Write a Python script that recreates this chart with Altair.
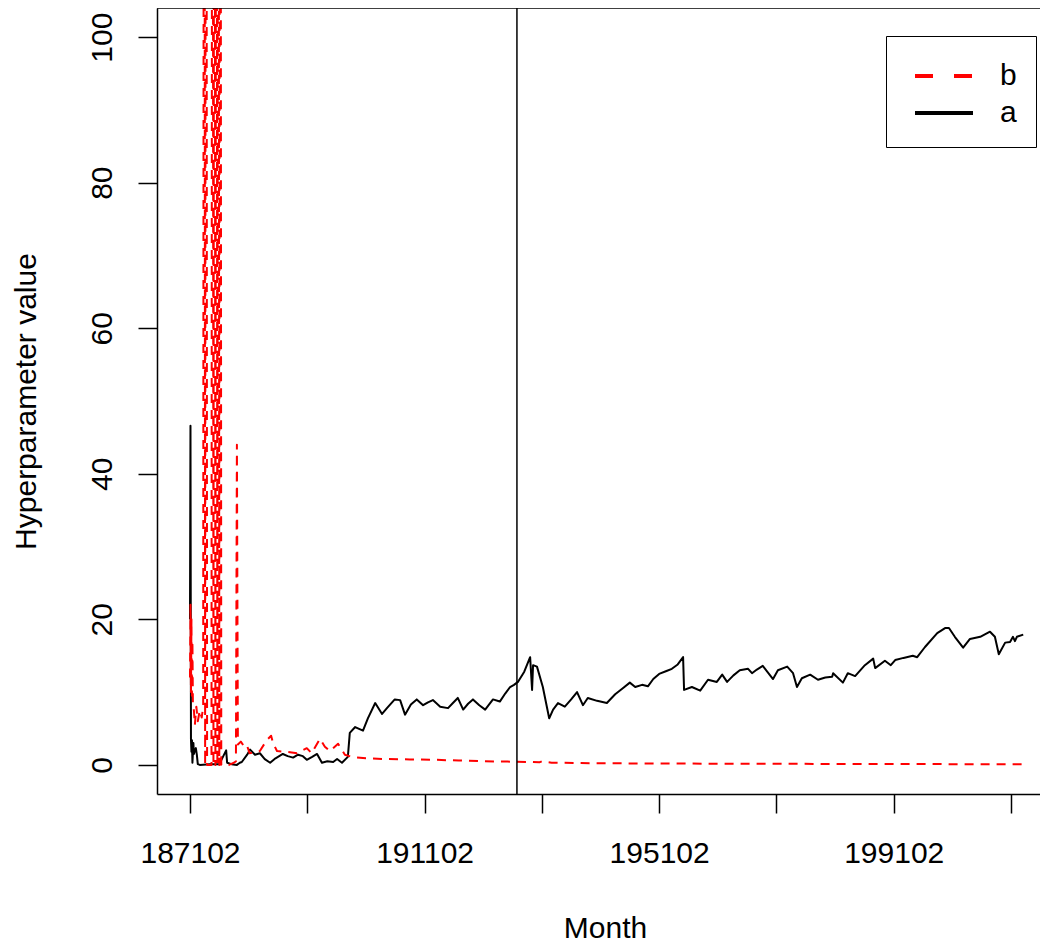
import altair as alt
import pandas as pd

# x = month index, 0 = 1871-02 (one step per month)
a_month = [
    0, 1, 2, 3, 4, 5, 7, 8, 10, 12,
    14, 16, 20, 40, 60, 74, 76, 85, 96, 102,
    106, 117, 123, 133, 143, 153, 164, 175, 190, 200,
    211, 221, 231, 239, 250, 260, 270, 281, 293, 301,
    311, 323, 327, 338, 354, 364, 379, 393, 403, 419,
    430, 440, 452, 464, 477, 487, 497, 512, 528, 538,
    548, 559, 569, 579, 592, 604, 620, 634, 645, 655,
    663, 671, 684, 696, 700, 702, 710, 722, 735, 743,
    753, 767, 780, 792, 804, 814, 833, 853, 870, 885,
    900, 911, 925, 937, 948, 960, 975, 986, 998, 1009,
    1011, 1027, 1044, 1060, 1078, 1089, 1099, 1112, 1125, 1142,
    1150, 1160, 1172, 1193, 1203, 1222, 1234, 1242, 1252, 1269,
    1285, 1300, 1314, 1316, 1336, 1346, 1361, 1381, 1398, 1402,
    1422, 1434, 1443, 1460, 1479, 1488, 1504, 1529, 1545, 1553,
    1565, 1582, 1596, 1617, 1637, 1647, 1655, 1668, 1678, 1684,
    1688, 1692, 1705,
]
a_value = [
    20, 46.6, 3.5, 1.8, 3.4, 0.3, 3.0, 1.5, 2.0, 2.3,
    1.4, 0.1, 0, 0.1, 0.1, 2.0, 0.3, 0.1, 0, 0.3,
    0.4, 1.4, 2.1, 1.4, 1.6, 0.8, 0.3, 0.9, 1.5, 1.2,
    1.0, 1.4, 1.2, 0.7, 1.1, 1.5, 0.3, 0.5, 0.4, 0.8,
    0.3, 1.1, 4.4, 5.2, 4.7, 6.4, 8.5, 7.0, 7.8, 9.0,
    8.9, 6.9, 8.3, 9.0, 8.2, 8.6, 8.9, 8.0, 7.8, 8.5,
    9.2, 7.6, 8.4, 9.0, 8.2, 7.6, 9.0, 8.7, 9.8, 10.7,
    11.0, 11.4, 12.8, 14.8, 10.3, 13.7, 13.5, 10.7, 6.4, 7.6,
    8.5, 8.0, 9.0, 10.0, 8.2, 9.2, 8.8, 8.5, 9.7, 10.5,
    11.3, 10.7, 11.0, 10.8, 11.8, 12.5, 12.9, 13.2, 13.8, 14.8,
    10.3, 10.7, 10.2, 11.7, 11.4, 12.4, 11.4, 12.3, 13.0, 13.2,
    12.6, 13.1, 13.6, 11.8, 13.0, 13.5, 12.6, 10.7, 11.9, 12.4,
    11.7, 12.0, 12.1, 12.6, 11.3, 12.6, 12.2, 13.7, 14.6, 13.3,
    14.3, 13.7, 14.4, 14.7, 15.0, 14.8, 16.2, 18.1, 18.8, 18.8,
    17.6, 16.1, 17.3, 17.6, 18.3, 17.6, 15.2, 16.8, 16.9, 17.6,
    17.0, 17.6, 17.9,
]

b_month = [
    0, 1, 2, 3, 4, 5, 6, 8, 10, 13,
    16, 20, 24, 27, 29, 31, 33, 35, 40, 44,
    46, 48, 50, 52, 54, 56, 58, 60, 62, 64,
    70, 80, 90, 94, 96, 98, 104, 110, 116, 122,
    143, 157, 166, 170, 178, 198, 219, 239, 249, 266,
    276, 286, 303, 317, 331, 360, 400, 450, 500, 550,
    600, 650, 700, 715, 720, 740, 800, 900, 1000, 1200,
    1400, 1600, 1705,
]
b_value = [
    12, 22, 10, 20, 9.5, 17, 8, 7.5, 5.5, 8,
    6, 7.5, 6.5, 8, 250, 0, 250, 0, 0, 0,
    250, 0, 250, 0, 250, 0, 250, 0, 250, 0,
    0, 0, 0.3, 0.5, 44, 2.8, 3.2, 2.6, 2.8, 1.6,
    1.9, 3.4, 4.0, 3.0, 1.9, 1.8, 1.6, 2.3, 1.6, 3.6,
    2.5, 1.9, 2.9, 1.4, 1.1, 0.9, 0.8, 0.75, 0.7, 0.6,
    0.5, 0.45, 0.4, 0.35, 0.5, 0.3, 0.25, 0.2, 0.18, 0.15,
    0.12, 0.1, 0.1,
]
assert len(a_month) == len(a_value)
assert len(b_month) == len(b_value)

series_names = ["b", "a"]
series_colors = ["#FF0000", "#000000"]
legend_dashes = [[18, 21], [1, 0]]

x_tick_values = [0, 240, 480, 720, 960, 1200, 1440, 1680]
x_tick_labels = ["187102", "", "191102", "", "195102", "", "199102", ""]
y_tick_values = [0, 20, 40, 60, 80, 100]
vline_month = [669]

FONT = "Liberation Sans"
FS = 30
W, H = 883, 786

df_a = pd.DataFrame({"m": a_month, "v": a_value})
df_b = pd.DataFrame({"m": b_month, "v": b_value})
df_key = pd.DataFrame({
    "series": series_names,
    "m": [b_month[0], a_month[0]],
    "v": [b_value[0], a_value[0]],
})
df_vline = pd.DataFrame({"m": vline_month})

label_expr = "''"
for v, lab in reversed(list(zip(x_tick_values, x_tick_labels))):
    label_expr = f"datum.value == {v} ? '{lab}' : ({label_expr})"

xscale = alt.Scale(domain=[-67.5, 1739.3], nice=False, zero=False)
yscale = alt.Scale(domain=[-4, 104], nice=False, zero=False)

x_axis = alt.Axis(
    values=x_tick_values, labelExpr=label_expr, title="Month", grid=False,
    tickSize=19, tickWidth=1.5, tickColor="black",
    domain=True, domainColor="black", domainWidth=1.5,
    labelFont=FONT, labelFontSize=FS, labelColor="black",
    labelBaseline="alphabetic", labelAlign="center", labelPadding=49,
    labelOverlap=False, labelFlush=False,
    titleFont=FONT, titleFontSize=FS, titleFontWeight="normal", titleColor="black",
    titleX=448, titleY=143, titleAlign="center", titleBaseline="alphabetic",
)
y_axis = alt.Axis(
    values=y_tick_values, title="Hyperparameter value", grid=False,
    tickSize=19, tickWidth=1.5, tickColor="black",
    domain=True, domainColor="black", domainWidth=1.5,
    labelFont=FONT, labelFontSize=FS, labelColor="black",
    labelAngle=270, labelAlign="center", labelBaseline="alphabetic",
    labelPadding=27, labelOverlap=False, labelFlush=False,
    titleFont=FONT, titleFontSize=FS, titleFontWeight="normal", titleColor="black",
    titleAngle=270, titleX=-122, titleY=393, titleAlign="center",
    titleBaseline="alphabetic",
)

X = alt.X("m:Q", scale=xscale, axis=x_axis)
Y = alt.Y("v:Q", scale=yscale, axis=y_axis)

line_a = alt.Chart(df_a).mark_line(
    color="black", strokeWidth=2, strokeJoin="round", clip=True
).encode(x=X, y=Y)

line_b = alt.Chart(df_b).mark_line(
    color="#FF0000", strokeWidth=2, strokeDash=[9, 7], strokeJoin="round", clip=True
).encode(x=X, y=Y)

vline = alt.Chart(df_vline).mark_rule(color="black", strokeWidth=1.5).encode(x=X)

top_frame = alt.Chart(df_vline).mark_rule(color="black", strokeWidth=1.5).encode(
    x=alt.value(0), x2=alt.value(W), y=alt.value(0)
)

leg = alt.Legend(
    title=None, orient="none", legendX=729, legendY=28,
    strokeColor="black", padding=18.5, rowPadding=-1,
    symbolType="M-1.487,0H1.487", symbolSize=1521, symbolStrokeWidth=4, symbolOffset=18,
    labelOffset=34.5, labelFont=FONT, labelFontSize=FS, labelColor="black",
)
key = alt.Chart(df_key).mark_line(clip=True).encode(
    x=X, y=Y,
    color=alt.Color("series:N", scale=alt.Scale(domain=series_names, range=series_colors), legend=leg),
    strokeDash=alt.StrokeDash("series:N", scale=alt.Scale(domain=series_names, range=legend_dashes), legend=leg),
)

chart = alt.layer(line_a, line_b, vline, top_frame, key).properties(
    width=W, height=H,
    autosize=alt.AutoSizeParams(type="none"),
    padding={"left": 149, "top": 0, "right": 0, "bottom": 149},
    background="white",
).configure_view(strokeWidth=0)

chart.save("out.html", embed_options={"renderer": "svg", "actions": False})
